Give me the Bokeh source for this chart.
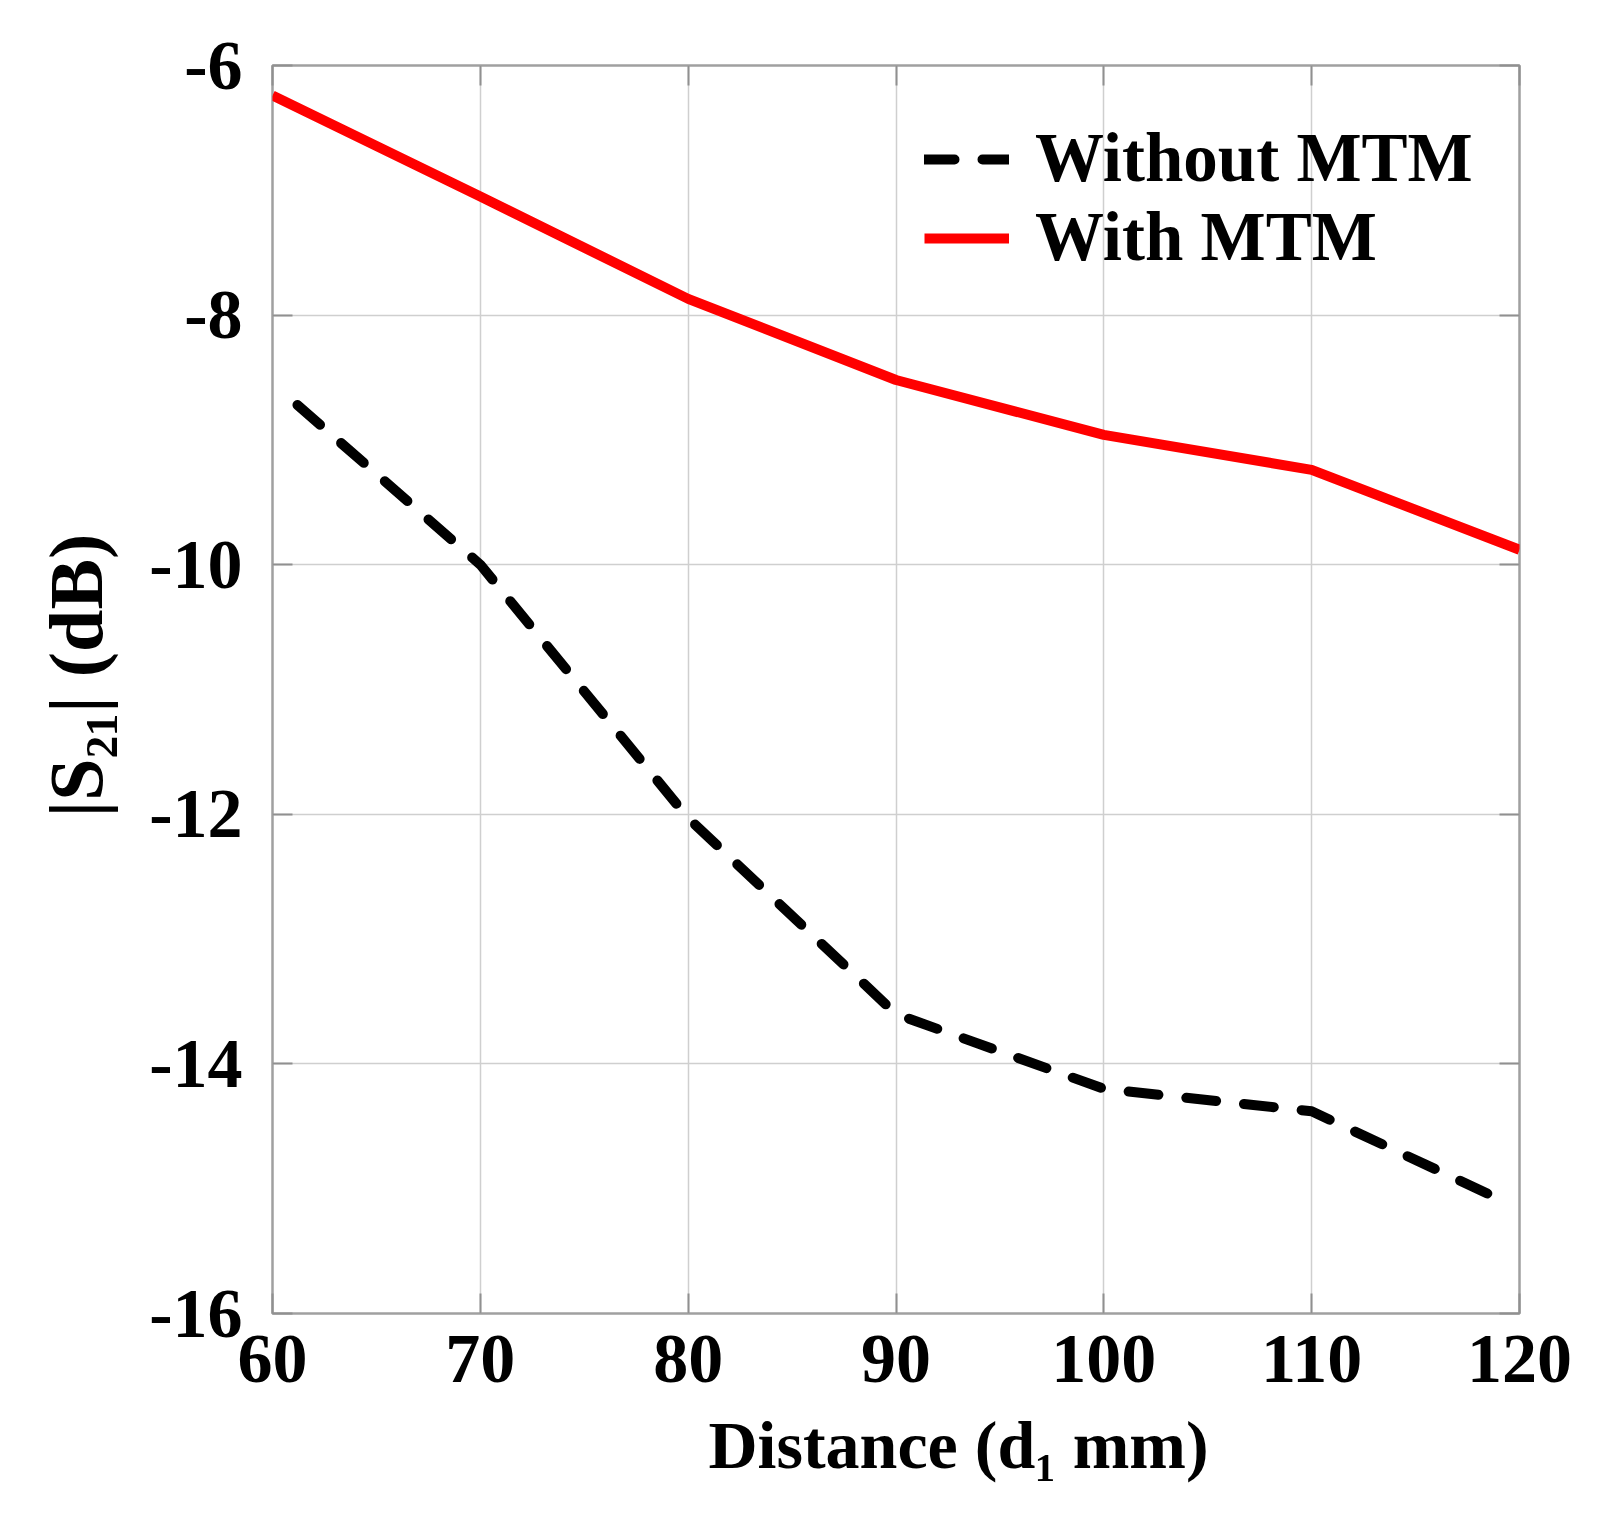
from bokeh.plotting import figure
from bokeh.models import FixedTicker, LinearAxis, Title
from bokeh.embed import file_html
from bokeh.resources import INLINE

# distance d1 (mm) and |S21| (dB)
dist_with = [60, 70, 80, 90, 100, 110, 120]
s21_with = [-6.24, -7.05, -7.87, -8.52, -8.96, -9.24, -9.88]

dist_without = [61.2, 70, 80, 90, 100, 110, 119.5]
s21_without = [-8.72, -10.0, -12.03, -13.6, -14.2, -14.38, -15.12]

x_ticks = [60, 70, 80, 90, 100, 110, 120]
y_ticks = [-16, -14, -12, -10, -8, -6]

FONT = "Liberation Serif"

p = figure(frame_width=1247, frame_height=1248,
           x_range=(60, 120), y_range=(-16, -6),
           output_backend="svg", toolbar_location=None,
           min_border_left=272, min_border_top=65,
           min_border_right=89, min_border_bottom=187,
           background_fill_color="white", border_fill_color="white")

p.outline_line_color = "#a0a0a0"
p.outline_line_width = 2.5

p.xgrid.ticker = FixedTicker(ticks=x_ticks)
p.ygrid.ticker = FixedTicker(ticks=y_ticks)
p.xgrid.grid_line_color = "#cfcfcf"
p.ygrid.grid_line_color = "#cfcfcf"
p.xgrid.grid_line_width = 1.5
p.ygrid.grid_line_width = 1.5

p.xaxis.ticker = FixedTicker(ticks=x_ticks)
p.yaxis.ticker = FixedTicker(ticks=y_ticks)
p.xaxis.major_label_overrides = {t: str(t) for t in x_ticks}
p.yaxis.major_label_overrides = {t: str(t) for t in y_ticks}

for ax in (p.xaxis, p.yaxis):
    ax.axis_line_color = None
    ax.major_tick_in = 20
    ax.major_tick_out = 0
    ax.major_tick_line_color = "#909090"
    ax.major_tick_line_width = 2
    ax.minor_tick_line_color = None
    ax.major_label_text_font = FONT
    ax.major_label_text_font_style = "bold"
    ax.major_label_text_font_size = "70px"
    ax.major_label_text_color = "black"

p.xaxis.major_label_standoff = 22
p.yaxis.major_label_standoff = 30

# mirrored ticks on top and right
for side, tks in (("above", x_ticks), ("right", y_ticks)):
    ax = LinearAxis(ticker=FixedTicker(ticks=tks))
    ax.axis_line_color = None
    ax.major_tick_in = 20
    ax.major_tick_out = 0
    ax.major_tick_line_color = "#909090"
    ax.major_tick_line_width = 2
    ax.minor_tick_line_color = None
    ax.major_label_text_font_size = "0px"
    ax.major_label_text_color = None
    p.add_layout(ax, side)

# axis titles as Title panels, so they can be nudged off centre
xtitle = Title(text="Distance (d\u2081 mm)", align="left", offset=436,
               standoff=41, text_font=FONT, text_font_style="bold",
               text_font_size="68px", text_color="black")
p.add_layout(xtitle, "below")
ytitle = Title(text="|S\u2082\u2081| (dB)", align="left", offset=496,
               standoff=58, text_font=FONT, text_font_style="bold",
               text_font_size="76px", text_color="black")
p.add_layout(ytitle, "left")

p.line(dist_without, s21_without, line_color="black", line_width=10,
       line_dash="30 28", line_cap="round", legend_label="Without MTM")
p.line(dist_with, s21_with, line_color="#ff0000", line_width=10,
       legend_label="With MTM")

p.legend.location = (652, 1036)
p.legend.background_fill_alpha = 0
p.legend.border_line_color = None
p.legend.padding = 0
p.legend.margin = 0
p.legend.spacing = 0
p.legend.glyph_width = 85
p.legend.glyph_height = 78
p.legend.label_height = 78
p.legend.label_standoff = 26
p.legend.label_text_font = FONT
p.legend.label_text_font_style = "bold"
p.legend.label_text_font_size = "69px"
p.legend.label_text_color = "black"

open("out.html", "w").write(file_html(p, INLINE))
